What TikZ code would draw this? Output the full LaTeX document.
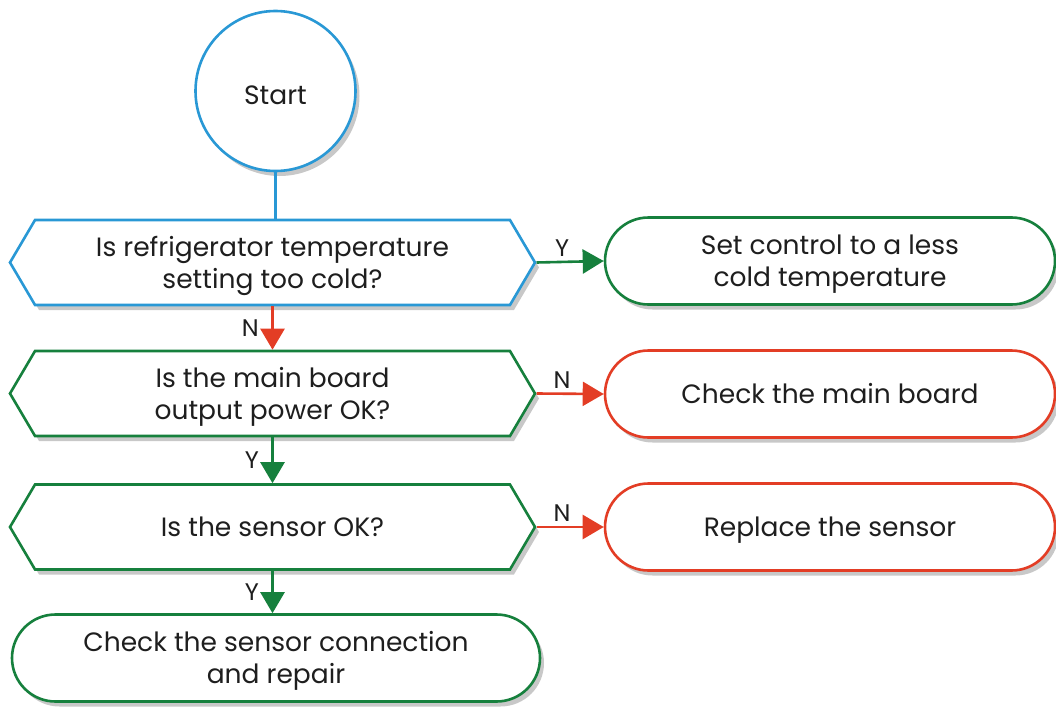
\documentclass[tikz,border=0pt]{standalone}
\usepackage{fontspec}
\setmainfont{Poppins}
\usetikzlibrary{shapes.symbols,shapes.misc,shadows,arrows.meta}
\definecolor{flowblue}{RGB}{41,152,213}
\definecolor{flowgreen}{RGB}{22,128,61}
\definecolor{flowred}{RGB}{227,61,37}
\definecolor{flowshadow}{RGB}{200,200,200}
\definecolor{flowtext}{RGB}{30,30,30}

\begin{document}
\begin{tikzpicture}[x=1pt,y=-1pt,
  base/.style={fill=white, line width=2.6pt, align=center, text=flowtext,
    font=\fontsize{26.5}{32}\selectfont,
    drop shadow={shadow xshift=4pt, shadow yshift=-5pt, fill=flowshadow, opacity=1}},
  oneline/.style={text height=19pt, text depth=0pt},
  twoline/.style={text height=51pt, text depth=0pt},
  startnode/.style={base, circle, draw=flowblue, minimum size=160pt, inner sep=0pt,
    text height=26pt, text depth=0pt},
  decision/.style={base, signal, signal to=west and east, signal pointer angle=119,
    minimum width=525pt, minimum height=85pt, inner sep=0pt},
  terminal/.style={base, rounded rectangle, minimum width=450pt, minimum height=87pt, inner sep=0pt},
  link/.style={line width=2.6pt, -{Triangle[length=21pt,width=24pt]}},
  lbl/.style={text=flowtext, font=\fontsize{24}{26}\selectfont}]
  \useasboundingbox (0,0) rectangle (1056,706);

  \node[startnode] (start) at (275.5,91) {Start};
  \node[decision, twoline, draw=flowblue] (cold) at (272.5,262.5) {Is refrigerator temperature\\setting too cold?};
  \node[decision, twoline, draw=flowgreen] (board) at (272.5,393.5) {Is the main board\\output power OK?};
  \node[decision, oneline, draw=flowgreen] (sensor) at (272.5,527) {Is the sensor OK?};
  \node[terminal, twoline, draw=flowgreen, minimum width=528pt] (repair) at (276,658) {Check the sensor connection\\and repair};
  \node[terminal, twoline, draw=flowgreen] (setctl) at (830,261) {Set control to a less\\cold temperature};
  \node[terminal, oneline, draw=flowred] (checkb) at (830,394) {Check the main board};
  \node[terminal, oneline, draw=flowred] (replace) at (830,527) {Replace the sensor};

  \draw[line width=2.6pt, flowblue] (start) -- (cold.north -| start);
  \draw[link, flowred] (cold.south) -- node[lbl, left=9pt] {N} (board.north);
  \draw[link, flowgreen] (board.south) -- node[lbl, left=9pt] {Y} (sensor.north);
  \draw[link, flowgreen] (sensor.south) -- node[lbl, left=9pt] {Y} (sensor.south |- repair.north);
  \draw[link, flowgreen] (cold.east) -- node[lbl, above=1pt, xshift=-8pt] {Y} (setctl.west);
  \draw[link, flowred] (board.east) -- node[lbl, above=1pt, xshift=-8pt] {N} (checkb.west);
  \draw[link, flowred] (sensor.east) -- node[lbl, above=1pt, xshift=-8pt] {N} (replace.west);
\end{tikzpicture}
\end{document}
